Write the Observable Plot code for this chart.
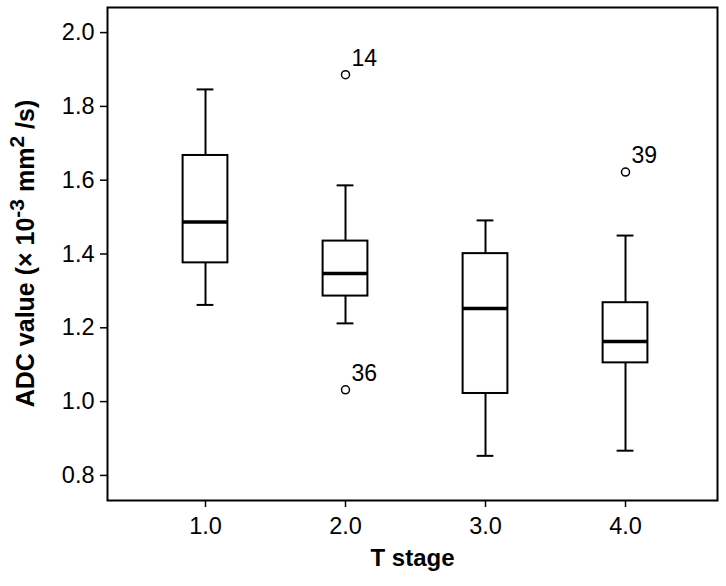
<!DOCTYPE html>
<html>
<head>
<meta charset="utf-8">
<script src="https://cdn.jsdelivr.net/npm/d3@7"></script>
<script src="https://cdn.jsdelivr.net/npm/@observablehq/plot@0.6"></script>
<style>
  html, body { margin: 0; padding: 0; background: #fff; }
</style>
</head>
<body>
<div id="chart"></div>
<script>
// T stage categories and box-plot summaries (ADC value, ×10^-3 mm²/s)
const stages      = [1, 2, 3, 4];
const whiskerLow  = [1.262, 1.212, 0.853, 0.867];
const q1          = [1.376, 1.286, 1.022, 1.105];
const medians     = [1.487, 1.347, 1.252, 1.163];
const q3          = [1.667, 1.435, 1.401, 1.268];
const whiskerHigh = [1.846, 1.586, 1.491, 1.450];

// outliers
const outlierStage = [2, 2, 4];
const outlierValue = [1.886, 1.032, 1.622];
const outlierCase  = ["14", "36", "39"];

// axis ticks
const yTicks = [0.8, 1.0, 1.2, 1.4, 1.6, 1.8, 2.0];
const xTicks = [1, 2, 3, 4];

const boxes = stages.map((s, i) => ({
  stage: s, lo: whiskerLow[i], q1: q1[i], med: medians[i], q3: q3[i], hi: whiskerHigh[i]
}));
const outliers = outlierStage.map((s, i) => ({stage: s, value: outlierValue[i], label: outlierCase[i]}));

const halfBox = 0.16, halfCap = 0.06;

const chart = Plot.plot({
  width: 726,
  height: 586,
  marginLeft: 107,
  marginRight: 9,
  marginTop: 7,
  marginBottom: 86,
  style: {fontFamily: "'Liberation Sans', Arial, sans-serif", background: "#fff", color: "#000"},
  x: {domain: [0.3, 4.657]},
  y: {domain: [0.732, 2.068]},
  marks: [
    Plot.axisY({ticks: yTicks, tickFormat: d => d.toFixed(1), tickSize: 7, tickPadding: 6, fontSize: 23.5, label: null, strokeWidth: 1.5}),
    Plot.axisX({ticks: xTicks, tickFormat: d => d.toFixed(1), tickSize: 7, tickPadding: 10, fontSize: 23.5, label: null, strokeWidth: 1.5}),
    // whiskers
    Plot.ruleX(boxes, {x: "stage", y1: "q3", y2: "hi", stroke: "#000", strokeWidth: 2}),
    Plot.ruleX(boxes, {x: "stage", y1: "lo", y2: "q1", stroke: "#000", strokeWidth: 2}),
    // caps
    Plot.ruleY(boxes, {y: "hi", x1: d => d.stage - halfCap, x2: d => d.stage + halfCap, stroke: "#000", strokeWidth: 2}),
    Plot.ruleY(boxes, {y: "lo", x1: d => d.stage - halfCap, x2: d => d.stage + halfCap, stroke: "#000", strokeWidth: 2}),
    // boxes
    Plot.rect(boxes, {x1: d => d.stage - halfBox, x2: d => d.stage + halfBox, y1: "q1", y2: "q3", fill: "#fff", stroke: "#000", strokeWidth: 2}),
    // medians
    Plot.ruleY(boxes, {y: "med", x1: d => d.stage - halfBox, x2: d => d.stage + halfBox, stroke: "#000", strokeWidth: 3.5}),
    // outliers
    Plot.dot(outliers, {x: "stage", y: "value", r: 4, fill: "#fff", stroke: "#000", strokeWidth: 1.5}),
    Plot.text(outliers, {x: "stage", y: "value", text: "label", dx: 6, dy: -16, textAnchor: "start", fontSize: 23, fill: "#000"}),
    Plot.text(["T stage"], {frameAnchor: "bottom", dy: 65, fontSize: 24, fontWeight: "bold", fill: "#000"}),
    Plot.frame({stroke: "#000", strokeWidth: 2})
  ]
});

document.getElementById("chart").appendChild(chart);

// Y-axis title with superscripts
const svg = d3.select(chart);
const t = svg.append("text")
  .attr("transform", "translate(34,253.5) rotate(-90)")
  .attr("text-anchor", "middle")
  .attr("font-family", "'Liberation Sans', Arial, sans-serif")
  .attr("font-weight", "bold")
  .attr("font-size", 25)
  .attr("fill", "#000");
t.append("tspan").text("ADC value (\u00d7 10");
t.append("tspan").attr("dy", -10).attr("font-size", 21).text("-3");
t.append("tspan").attr("dy", 10).text(" mm");
t.append("tspan").attr("dy", -10).attr("font-size", 21).text("2");
t.append("tspan").attr("dy", 10).text(" /s)");
</script>
</body>
</html>
